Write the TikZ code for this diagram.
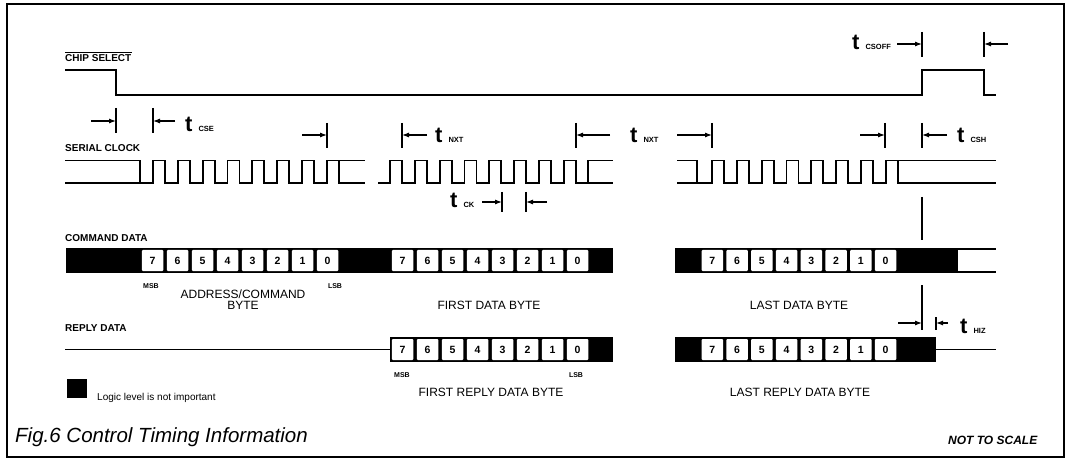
\documentclass[tikz,border=0pt]{standalone}
\usepackage{fontspec}
\setmainfont{Liberation Sans}
\usetikzlibrary{arrows.meta}
\newcommand{\tname}[1]{{\fontsize{22}{22}\selectfont\bfseries t}\hspace{6pt}{\fontsize{7.5}{8}\selectfont\bfseries #1}}
\begin{document}
\begin{tikzpicture}[x=1pt,y=-1pt,
  sig/.style={line width=1.8pt},
  tick/.style={line width=1.1pt},
  dim/.style={line width=1.1pt,-{Latex[length=7pt,width=5pt]}},
  lbl/.style={font=\fontsize{10}{10}\selectfont\bfseries,anchor=base west,inner sep=0pt},
  sml/.style={font=\fontsize{7}{7}\selectfont\bfseries,anchor=base,inner sep=0pt},
  byte/.style={font=\fontsize{12}{11}\selectfont,anchor=base,inner sep=0pt,align=center},
  tlbl/.style={anchor=base west,inner sep=0pt},
  cell/.style={fill=white,minimum width=21.5pt,minimum height=21pt,inner sep=0pt,
    rounded corners=1pt,font=\fontsize{10.5}{10}\selectfont\bfseries}]
\useasboundingbox (0,0) rectangle (1070,462);
\draw[line width=1.8pt] (7,4) rectangle (1064,457);

% signal names
\node[lbl] (cs) at (65,62) {CHIP SELECT};
\draw[line width=0.9pt] ([yshift=2pt]cs.north west) -- ([yshift=2pt]cs.north east);
\node[lbl] (sclk) at (65,152) {SERIAL CLOCK};
\node[lbl] (cmd) at (65,242) {COMMAND DATA};
\node[lbl] (rep) at (65,331) {REPLY DATA};

% chip select
\draw[sig] (65,70) -- (116,70) -- (116,95) -- (922,95) -- (922,70) -- (984,70) -- (984,95) -- (996,95);

% serial clock
\draw[sig] (65,160.5) -- (140,160.5) -- (140,183);
\draw[sig] (65,183) \foreach \k in {0,...,7}{ -- ({153+24.8*\k},183) -- ++(0,-22.5) -- ++(12,0) -- ++(0,22.5)} -- (365,183);
\draw[sig] (338.6,160.5) -- (365,160.5);
\draw[sig] (378,183) \foreach \k in {0,...,7}{ -- ({390+24.8*\k},183) -- ++(0,-22.5) -- ++(12,0) -- ++(0,22.5)} -- (588,183) -- (588,160.5) -- (613,160.5);
\draw[sig] (588,183) -- (613,183);
\draw[sig] (677,160.5) -- (697,160.5) -- (697,183);
\draw[sig] (677,183) \foreach \k in {0,...,7}{ -- ({712+24.8*\k},183) -- ++(0,-22.5) -- ++(12,0) -- ++(0,22.5)} -- (996,183);
\draw[sig] (897.6,160.5) -- (996,160.5);

% command data
\fill (66,248) rectangle (613,273);
\fill (675,248) rectangle (958,273);
\draw[sig] (958,248.9) -- (996,248.9) (958,272.1) -- (996,272.1);
\foreach \b [count=\i from 0] in {7,...,0} {
  \node[cell] (a\b) at ({152.5+25*\i},260.5) {\b};
  \node[cell] (f\b) at ({402.5+25*\i},260.5) {\b};
  \node[cell] (l\b) at ({712.4+24.75*\i},260.5) {\b};
}
\node[sml] (amsb) at (151,288) {MSB};
\node[sml] (alsb) at (335,288) {LSB};
\node[byte] (abyte) at (243,309) {ADDRESS/COMMAND\\BYTE};
\node[byte] (fbyte) at (489,309) {FIRST DATA BYTE};
\node[byte] (lbyte) at (799,309) {LAST DATA BYTE};

% reply data
\draw[sig] (65,349.5) -- (390,349.5);
\fill (390,337) rectangle (613,362);
\fill (675,337) rectangle (936,362);
\draw[sig] (936,349.5) -- (996,349.5);
\foreach \b [count=\i from 0] in {7,...,0} {
  \node[cell] (r\b) at ({402.5+25*\i},349.5) {\b};
  \node[cell] (q\b) at ({712.4+24.75*\i},349.5) {\b};
}
\node[sml] (rmsb) at (402,377) {MSB};
\node[sml] (rlsb) at (576,377) {LSB};
\node[byte] (rbyte) at (491,396) {FIRST REPLY DATA BYTE};
\node[byte] (qbyte) at (800,396) {LAST REPLY DATA BYTE};

% timing marks
\coordinate (k1) at (116,121); \coordinate (k2) at (153,121);
\draw[tick] (116,108) -- (116,133) (153,108) -- (153,133);
\draw[dim] (91,121) -- (k1);
\draw[dim] (175,121) -- (k2);
\node[tlbl] (tcse) at (185,132) {\tname{CSE}};

\foreach \x in {327,402,576,712,885,922} \draw[tick] (\x,123) -- (\x,148);
\draw[dim] (302,135) -- (327,135);
\draw[dim] (427,135) -- (402,135);
\node[tlbl] (tnxt1) at (435,143) {\tname{NXT}};
\draw[dim] (610,135) -- (576,135);
\node[tlbl] (tnxt2) at (630,143) {\tname{NXT}};
\draw[dim] (677,135) -- (712,135);
\draw[dim] (860,135) -- (885,135);
\draw[dim] (947,135) -- (922,135);
\node[tlbl] (tcsh) at (957,143) {\tname{CSH}};

\draw[tick] (922,32) -- (922,57) (984,32) -- (984,57);
\draw[dim] (897,44) -- (922,44);
\draw[dim] (1008,44) -- (984,44);
\node[tlbl] (tcsoff) at (852,50) {\tname{CSOFF}};

\draw[tick] (502,192) -- (502,212) (526,192) -- (526,212);
\draw[dim] (482,202) -- (502,202);
\draw[dim] (547,202) -- (526,202);
\node[tlbl] (tck) at (450,208) {\tname{CK}};

\draw[tick] (922,197) -- (922,240);
\draw[tick] (922,285) -- (922,330) (936,317) -- (936,330);
\draw[dim] (898,323) -- (922,323);
\draw[dim] (948,323) -- (936,323);
\node[tlbl] (thiz) at (960,333) {\tname{HIZ}};

% legend and caption
\fill (67,379) rectangle (87,398);
\node[anchor=base west,inner sep=0pt,font=\fontsize{10}{10}\selectfont] (key) at (97,400) {Logic level is not important};
\node[anchor=base west,inner sep=0pt,font=\fontsize{20.5}{20}\selectfont\itshape] (cap) at (15,442) {Fig.6 Control Timing Information};
\node[anchor=base west,inner sep=0pt,font=\fontsize{12}{12}\selectfont\bfseries\itshape] (nts) at (948,444) {NOT TO SCALE};
\end{tikzpicture}
\end{document}
